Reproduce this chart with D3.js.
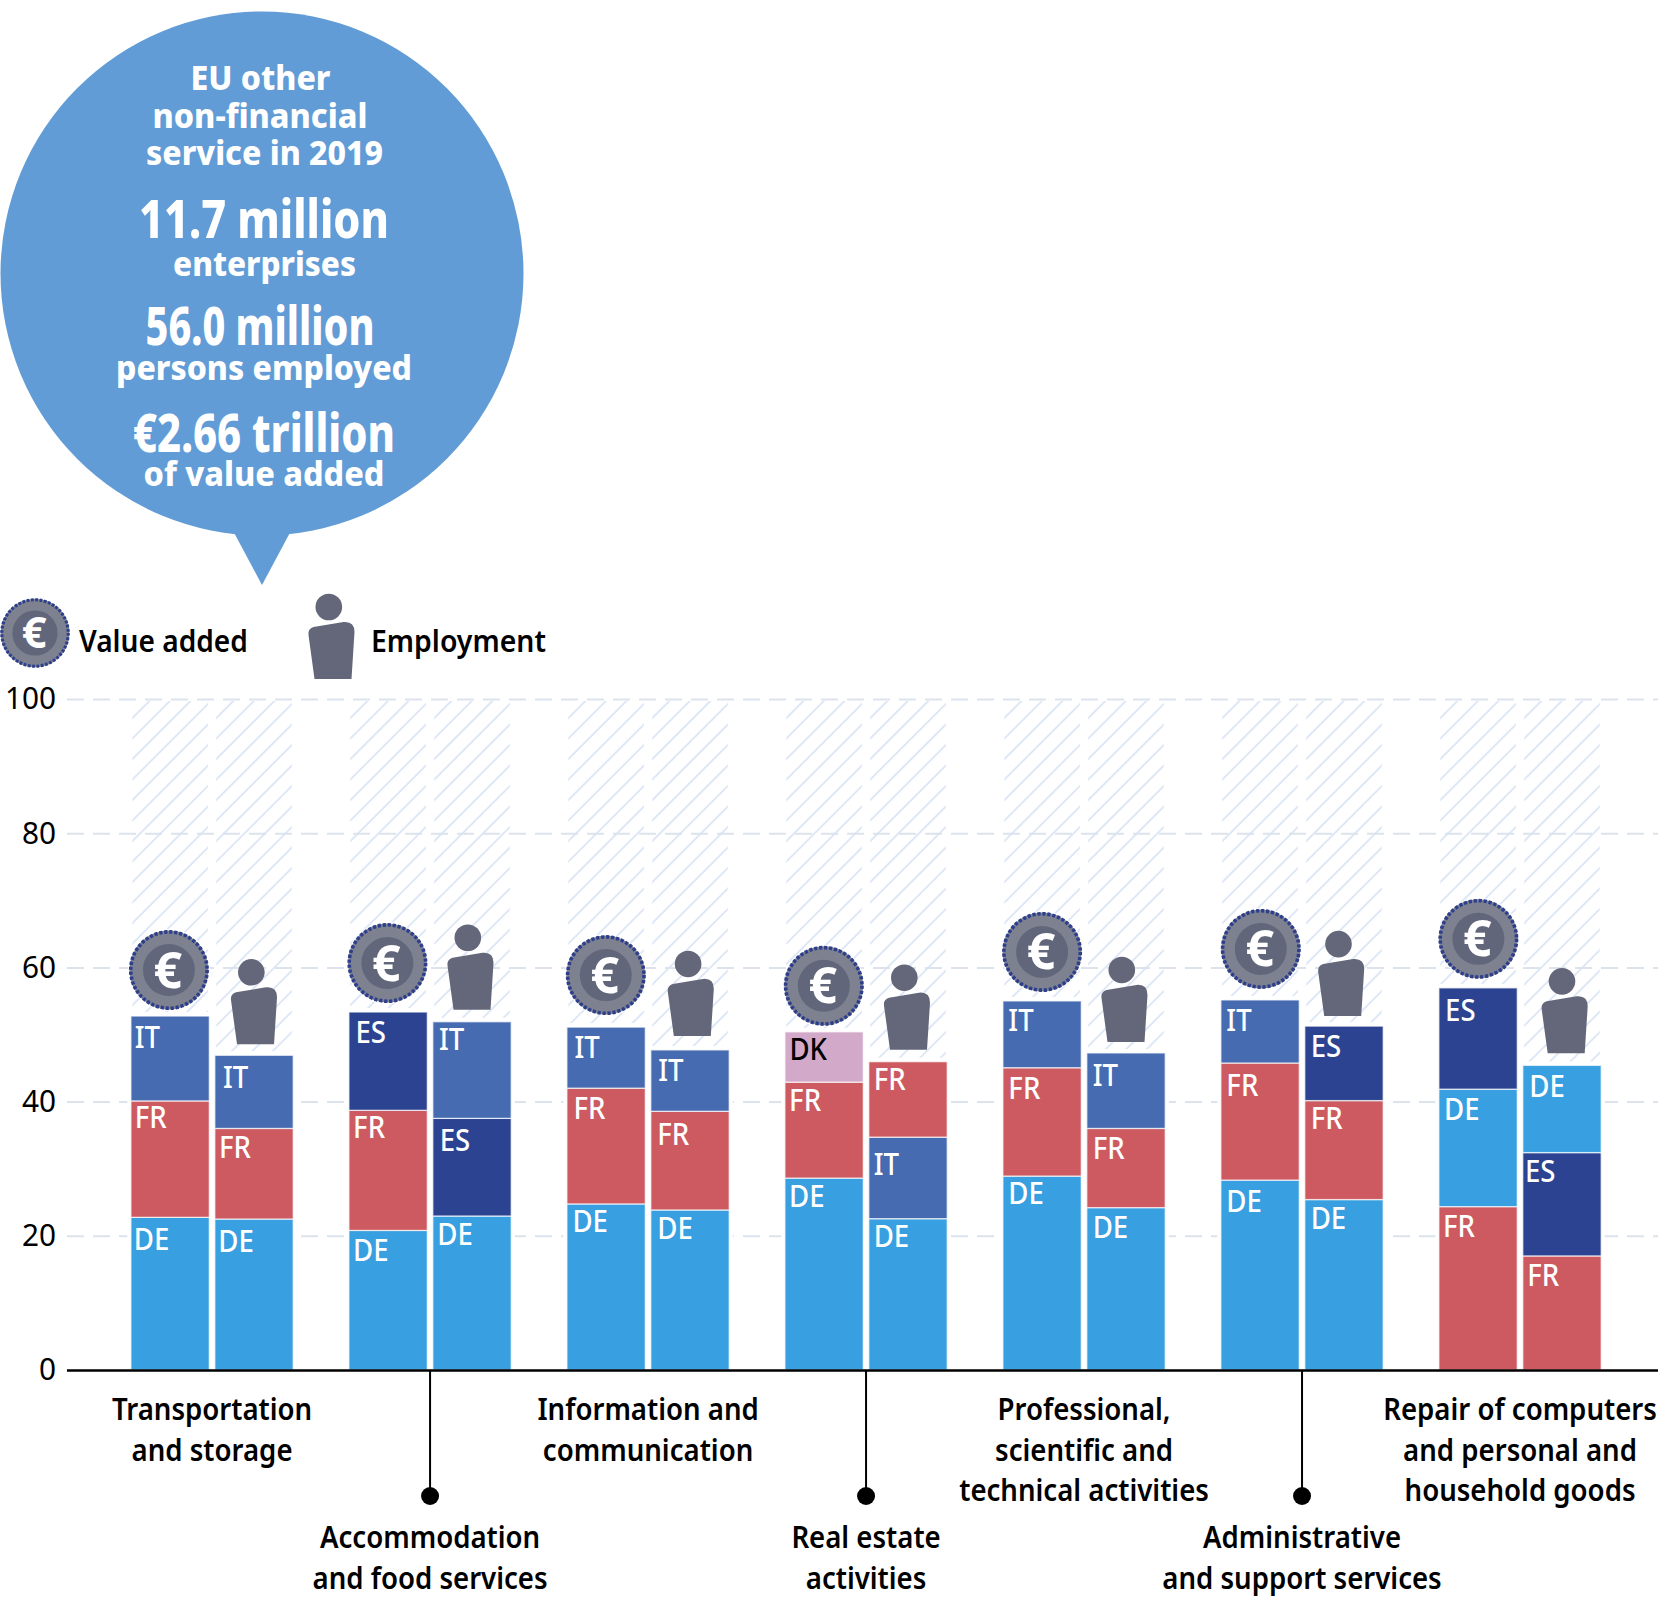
<!DOCTYPE html>
<html>
<head>
<meta charset="utf-8">
<script src="https://cdn.jsdelivr.net/npm/d3@7"></script>
<style>
  body { margin: 0; background: #fff; }
  svg { display: block; }
  text { font-family: "Noto Sans", sans-serif; }
</style>
</head>
<body>
<svg id="chart"></svg>
<script>
'use strict';
// data
var categories = [
  ['Transportation', 'and storage'],
  ['Accommodation', 'and food services'],
  ['Information and', 'communication'],
  ['Real estate', 'activities'],
  ['Professional,', 'scientific and', 'technical activities'],
  ['Administrative', 'and support services'],
  ['Repair of computers', 'and personal and', 'household goods']
];
var valueCountries = [
  ['DE', 'FR', 'IT'], ['DE', 'FR', 'ES'], ['DE', 'FR', 'IT'], ['DE', 'FR', 'DK'],
  ['DE', 'FR', 'IT'], ['DE', 'FR', 'IT'], ['FR', 'DE', 'ES']
];
var valueShares = [
  [22.75, 17.35, 12.65], [20.8, 17.9, 14.65], [24.75, 17.25, 9.1], [28.6, 14.3, 7.5],
  [28.9, 16.15, 9.95], [28.3, 17.45, 9.4], [24.35, 17.5, 15.1]
];
var employCountries = [
  ['DE', 'FR', 'IT'], ['DE', 'ES', 'IT'], ['DE', 'FR', 'IT'], ['DE', 'IT', 'FR'],
  ['DE', 'FR', 'IT'], ['DE', 'FR', 'ES'], ['FR', 'ES', 'DE']
];
var employShares = [
  [22.5, 13.5, 10.9], [22.95, 14.55, 14.4], [23.85, 14.7, 9.15], [22.55, 12.15, 11.25],
  [24.2, 11.8, 11.25], [25.4, 14.75, 11.1], [17, 15.4, 13]
];
var yTicks = [0, 20, 40, 60, 80, 100];
var measures = ['Value added', 'Employment'];
var bubbleLines = [
  'EU other', 'non-financial', 'service in 2019', '11.7 million', 'enterprises',
  '56.0 million', 'persons employed', '€2.66 trillion', 'of value added'
];

var countryColor = d3.scaleOrdinal()
  .domain(['DE', 'FR', 'IT', 'ES', 'DK'])
  .range(['#389fe0', '#cd5a60', '#466bb0', '#2c4391', '#d3a9c9']);

var canvasWidth = 1658;
var canvasHeight = 1608;
var svg = d3.select('#chart')
  .attr('width', canvasWidth)
  .attr('height', canvasHeight);

var yScale = d3.scaleLinear().domain([0, 100]).range([1370, 699]);
var xGroup = d3.scaleBand()
  .domain(d3.range(categories.length))
  .range([131.3, 1600.8])
  .paddingInner(0.259);
var xBar = d3.scaleBand()
  .domain(measures)
  .range([0, xGroup.bandwidth()])
  .paddingInner(0.075);

// squeeze real text to the narrow look of the original face
function squeeze(sel, ratio) {
  sel.each(function() {
    var x = +this.getAttribute('x') || 0;
    this.setAttribute('transform', 'translate(' + x * (1 - ratio) + ',0) scale(' + ratio + ',1)');
  });
}
function toWidth(sel, w) {
  sel.each(function(d, i) {
    var target = typeof w === 'function' ? w(d, i) : w;
    d3.select(this).call(squeeze, target / this.getComputedTextLength());
  });
}

var hatch = svg.append('defs').append('pattern')
  .attr('id', 'hatch')
  .attr('patternUnits', 'userSpaceOnUse')
  .attr('width', 14.5)
  .attr('height', 14.5)
  .attr('patternTransform', 'rotate(45)');
hatch.append('line')
  .attr('x1', 1).attr('y1', 0).attr('x2', 1).attr('y2', 14.5)
  .attr('stroke', '#d6e2f4')
  .attr('stroke-width', 1.6);

// speech bubble
var bubble = svg.append('g');
bubble.append('ellipse')
  .attr('cx', 262).attr('cy', 273.5).attr('rx', 261.5).attr('ry', 262)
  .attr('fill', '#619cd6');
bubble.append('path')
  .attr('d', 'M231,527L262,585L293,527Z')
  .attr('fill', '#619cd6');

var bubbleX = [260.5, 260, 264.5, 264, 264.5, 260, 264, 264, 264];
var bubbleY = [90.5, 128.5, 165.5, 238, 276.5, 345, 380.5, 452, 486.5];
var bubbleSize = [33, 33, 33, 54, 33, 54, 33, 54, 33];
var bubbleWidth = [140, 215, 237, 250, 183, 229, 296, 262, 241];
bubble.selectAll('text')
  .data(bubbleLines)
  .enter()
  .append('text')
  .attr('x', function(d, i) { return bubbleX[i]; })
  .attr('y', function(d, i) { return bubbleY[i]; })
  .attr('text-anchor', 'middle')
  .attr('fill', '#fff')
  .attr('font-weight', 800)
  .style('font-size', function(d, i) { return bubbleSize[i] + 'px'; })
  .text(function(d) { return d; })
  .call(toWidth, function(d, i) { return bubbleWidth[i]; });

// y axis and dashed grid
var grid = svg.append('g')
  .attr('transform', 'translate(67,0)')
  .call(d3.axisRight(yScale).tickValues(yTicks.slice(1)).tickSize(canvasWidth - 67).tickFormat(''));
grid.select('.domain').remove();
grid.selectAll('line')
  .attr('stroke', '#dde3ec')
  .attr('stroke-width', 2)
  .attr('stroke-dasharray', '17 9');

var yAxis = svg.append('g')
  .attr('transform', 'translate(67,0)')
  .call(d3.axisLeft(yScale).tickValues(yTicks).tickSize(0).tickPadding(11));
yAxis.select('.domain').remove();
yAxis.selectAll('text')
  .attr('fill', '#000')
  .style('font-size', '31px')
  .call(squeeze, 0.96);

// one row per bar
var barRows = [];
categories.forEach(function(c, i) {
  barRows.push({group: i, measure: measures[0], countries: valueCountries[i], shares: valueShares[i]});
  barRows.push({group: i, measure: measures[1], countries: employCountries[i], shares: employShares[i]});
});
barRows.forEach(function(r) {
  var tops = Array.from(d3.cumsum(r.shares));
  r.total = tops[tops.length - 1];
  r.segments = r.shares.map(function(v, k) {
    return {country: r.countries[k], from: tops[k] - v, to: tops[k], row: barRows.indexOf(r), k: k};
  });
});

// where each label sits inside its segment, bar by bar, bottom segment first
var labelDx = [
  [3.7, 4.7, 4.7], [4.3, 5, 9], [5, 5, 7.3], [5.3, 7.7, 7], [6.3, 7.3, 8.3], [7.3, 7.3, 8.3], [5, 5, 5.3],
  [5.7, 5.7, 5.7], [6.3, 6.3, 6.3], [6.7, 6.7, 6.7], [6.3, 6.3, 6.3], [6.7, 6.7, 6.7], [5, 6, 7], [5.3, 3, 7.3]
];
var labelDy = [
  [32.7, 26.7, 32], [32.7, 30, 33], [31, 28, 31], [29, 33, 28.7], [27.7, 30.7, 30.7], [29.3, 33.7, 31], [29.3, 29.3, 28],
  [28, 37.7, 28.3], [27.7, 31.3, 29.7], [30, 30.3, 33], [31.7, 32.7, 30.7], [29, 28.3, 30.7], [30, 31.3, 32.7], [30, 29, 31.3]
];

function barX(r) { return xGroup(r.group) + xBar(r.measure); }

var bars = svg.append('g').selectAll('g')
  .data(barRows)
  .enter()
  .append('g')
  .attr('transform', function(r) { return 'translate(' + barX(r) + ',0)'; });

// hatched rest of the 100%
bars.append('rect')
  .attr('x', 1)
  .attr('y', yScale(100) + 2)
  .attr('width', xBar.bandwidth() - 2)
  .attr('height', function(r) { return yScale(r.total) - yScale(100) - 2; })
  .attr('fill', 'url(#hatch)');

// white halo keeps grid and hatch off the bars
bars.append('rect')
  .attr('x', -4)
  .attr('y', function(r) { return yScale(r.total) - 4; })
  .attr('width', xBar.bandwidth() + 8)
  .attr('height', function(r) { return yScale(0) - yScale(r.total) + 4; })
  .attr('fill', '#fff');

var segs = bars.selectAll('.seg')
  .data(function(r) { return r.segments; })
  .enter()
  .append('g')
  .attr('class', 'seg');

segs.append('rect')
  .attr('x', -0.4)
  .attr('y', function(d) { return yScale(d.to); })
  .attr('width', xBar.bandwidth() + 0.8)
  .attr('height', function(d) { return yScale(d.from) - yScale(d.to); })
  .attr('fill', function(d) { return countryColor(d.country); })
  .attr('stroke', 'rgba(255,255,255,0.7)')
  .attr('stroke-width', 1.3);

segs.append('text')
  .attr('x', function(d) { return labelDx[d.row][d.k] - 1.2; })
  .attr('y', function(d) { return yScale(d.to) + labelDy[d.row][d.k]; })
  .attr('fill', function(d) { return d.country === 'DK' ? '#000' : '#fff'; })
  .attr('font-weight', 500)
  .style('font-size', '30px')
  .text(function(d) { return d.country; })
  .call(squeeze, 0.92);

// icons
function drawCoin(g) {
  g.append('circle').attr('r', 41).attr('fill', '#fff');
  g.append('circle').attr('r', 39.5).attr('fill', '#7d8190');
  g.append('circle').attr('r', 38.2).attr('fill', 'none')
    .attr('stroke', '#2c3e8c').attr('stroke-width', 3.6).attr('stroke-dasharray', '3.2 1.8');
  g.append('circle').attr('r', 26).attr('fill', '#62667a');
  g.append('text')
    .attr('text-anchor', 'middle')
    .attr('x', -1)
    .attr('y', 17.5)
    .attr('fill', '#fff')
    .attr('font-weight', 700)
    .style('font-size', '50px')
    .text('€');
}
function drawPerson(g) {
  g.append('circle')
    .attr('cx', -2.7).attr('cy', -72).attr('r', 13.3)
    .attr('fill', '#636779');
  g.append('path')
    .attr('d', 'M-17,0L-23,-44Q-24,-50 -18,-52L12,-57Q23,-58 23,-47L20,0Z')
    .attr('fill', '#636779');
}

var coinLift = [46, 49, 52, 46, 49, 51, 49];
var coinShift = [-1.2, -0.7, -0.3, -0.3, 0, 0.7, 0.3];
var personLift = [11, 12, 14, 12, 11, 10, 12];
var personShift = [0, -1.5, 0.8, -1, -1.5, -2.8, 2.7];
bars.filter(function(r) { return r.measure === measures[0]; })
  .append('g')
  .attr('transform', function(r) {
    return 'translate(' + (xBar.bandwidth() / 2 + coinShift[r.group]) + ',' + (yScale(r.total) - coinLift[r.group]) + ')';
  })
  .call(drawCoin);
bars.filter(function(r) { return r.measure === measures[1]; })
  .append('g')
  .attr('transform', function(r) {
    return 'translate(' + (xBar.bandwidth() / 2 + personShift[r.group]) + ',' + (yScale(r.total) - personLift[r.group]) + ')';
  })
  .call(drawPerson);

// legend
svg.append('g').attr('transform', 'translate(35,633) scale(0.87)').call(drawCoin);
svg.append('g').attr('transform', 'translate(331.5,679)').call(drawPerson);
svg.append('text').attr('x', 79).attr('y', 652.5)
  .attr('font-weight', 600).style('font-size', '31px')
  .text(measures[0]).call(toWidth, 169);
svg.append('text').attr('x', 371).attr('y', 652.5)
  .attr('font-weight', 600).style('font-size', '31px')
  .text(measures[1]).call(toWidth, 175);

// baseline
svg.append('line')
  .attr('x1', 67).attr('x2', canvasWidth)
  .attr('y1', yScale(0) + 0.5).attr('y2', yScale(0) + 0.5)
  .attr('stroke', '#000').attr('stroke-width', 2.4);

// category labels, every second one hangs lower on a leader
var labels = svg.append('g').selectAll('g')
  .data(categories)
  .enter()
  .append('g')
  .attr('transform', function(d, i) {
    return 'translate(' + (xGroup(i) + xGroup.bandwidth() / 2) + ',0)';
  });

labels.filter(function(d, i) { return i % 2 === 1; })
  .append('line')
  .attr('y1', yScale(0)).attr('y2', 1496)
  .attr('stroke', '#000').attr('stroke-width', 2);
labels.filter(function(d, i) { return i % 2 === 1; })
  .append('circle')
  .attr('cy', 1496).attr('r', 9).attr('fill', '#000');

var lineDrop = [0, 41.5, 81];
labels.each(function(d, i) {
  var top = i % 2 === 1 ? 1548 : 1420;
  d3.select(this).selectAll('text')
    .data(d)
    .enter()
    .append('text')
    .attr('y', function(t, k) { return top + lineDrop[k]; })
    .attr('text-anchor', 'middle')
    .attr('font-weight', 600)
    .attr('fill', '#000')
    .style('font-size', '31px')
    .text(function(t) { return t; })
    .call(squeeze, 0.89);
});
</script>
</body>
</html>
